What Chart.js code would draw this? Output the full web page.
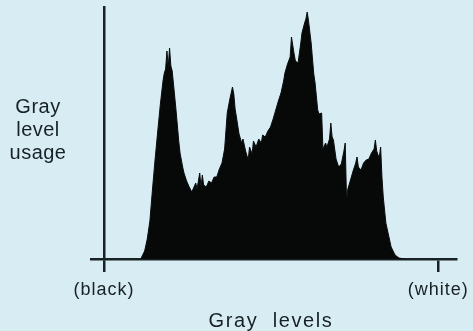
<!DOCTYPE html>
<html>
<head>
<meta charset="utf-8">
<script src="https://cdn.jsdelivr.net/npm/chart.js@4"></script>
<style>
  html, body { margin: 0; padding: 0; background: #d8ecf4; }
  canvas { display: block; }
</style>
</head>
<body>
<canvas id="chart" width="473" height="331"></canvas>
<script>
// gray level (0 = black, 255 = white) and how often it is used
const levels = [28, 31, 33, 35, 37, 39, 41, 43, 45, 46, 47, 48, 49, 50, 51, 52, 53, 55, 57, 58,
  60, 61, 63, 65, 67, 68, 70, 71, 73, 74, 75, 76, 78, 80, 82, 84, 86, 88, 90, 92,
  94, 96, 98, 99, 100, 101, 103, 105, 106, 108, 110, 111, 113, 114, 116, 118, 120, 121, 123, 125,
  127, 129, 131, 133, 135, 137, 138, 140, 142, 143, 145, 146, 148, 150, 151, 153, 154, 155, 156, 158,
  160, 161, 163, 164, 166, 167, 169, 170, 172, 173, 174, 175, 177, 179, 181, 183, 184, 185, 186, 188,
  190, 192, 193, 194, 196, 198, 200, 202, 204, 206, 207, 208, 209, 210, 211, 212, 213, 215, 217, 219,
  222, 225, 229];
const usage = [0, 8, 20, 38, 70, 100, 128, 155, 178, 186, 190, 208, 192, 211, 193, 188, 175, 148, 118, 106,
  92, 86, 78, 72, 67, 70, 76, 70, 86, 72, 84, 74, 72, 78, 76, 82, 82, 90, 96, 110,
  146, 160, 172, 165, 150, 142, 125, 116, 120, 108, 99, 112, 105, 118, 112, 120, 116, 124, 122, 128,
  132, 140, 149, 158, 166, 178, 186, 195, 202, 222, 205, 198, 196, 215, 226, 236, 240, 247, 238, 216,
  185, 176, 149, 145, 146, 110, 116, 112, 120, 136, 122, 119, 100, 92, 95, 108, 116, 59, 70, 79,
  88, 96, 102, 92, 89, 96, 99, 100, 106, 110, 119, 108, 104, 102, 112, 82, 62, 36, 24, 12,
  4, 1, 0];
const endLabels = { 0: "(black)", 255: "(white)" };
const yLabel = ["Gray", "level", "usage"];
const xLabel = "Gray  levels";

const ink = "#182224";

// axis names drawn as plain text next to the axes
const axisText = {
    id: "axisText",
    beforeDraw(chart) {
        chart.ctx.letterSpacing = "1px";
    },
    afterDraw(chart) {
        const ctx = chart.ctx;
        const area = chart.chartArea;
        ctx.save();
        ctx.fillStyle = ink;
        ctx.textAlign = "center";
        ctx.textBaseline = "alphabetic";
        ctx.font = "20px 'Liberation Sans', Arial, sans-serif";
        ctx.letterSpacing = "0.5px";
        yLabel.forEach((t, i) => ctx.fillText(t, 38, 113 + i * 23));
        ctx.letterSpacing = "1.6px";
        ctx.fillText(xLabel, 271, 327);
        ctx.restore();
    }
};

new Chart(document.getElementById("chart"), {
    type: "line",
    data: {
        datasets: [{
            data: levels.map((g, i) => ({ x: g, y: usage[i] })),
            borderColor: "#0a0d0e",
            backgroundColor: "#070909",
            borderWidth: 1,
            pointRadius: 0,
            tension: 0,
            fill: "origin",
        }],
    },
    options: {
        responsive: false,
        animation: false,
        layout: { padding: { top: 7, right: 13, left: 0, bottom: 0 } },
        plugins: { legend: { display: false }, tooltip: { enabled: false } },
        scales: {
            x: {
                type: "linear",
                min: 0,
                max: 269,
                afterBuildTicks: s => { s.ticks = [{ value: 0 }, { value: 255 }]; },
                afterFit: s => { s.height = 72; },
                border: { color: ink, width: 2.5 },
                grid: { drawOnChartArea: false, color: ink, lineWidth: 2.5, tickLength: 13 },
                ticks: {
                    color: ink,
                    padding: 7,
                    maxRotation: 0,
                    font: { family: "'Liberation Sans', Arial, sans-serif", size: 18 },
                    callback: v => endLabels[v] || "",
                },
            },
            y: {
                min: 0,
                max: 252,
                afterBuildTicks: s => { s.ticks = [{ value: 0 }]; },
                afterFit: s => { s.width = 104; },
                border: { color: ink, width: 2.5 },
                grid: { drawOnChartArea: false, color: ink, lineWidth: 2.5, tickLength: 14 },
                ticks: { display: false },
            },
        },
    },
    plugins: [axisText],
});
</script>
</body>
</html>
